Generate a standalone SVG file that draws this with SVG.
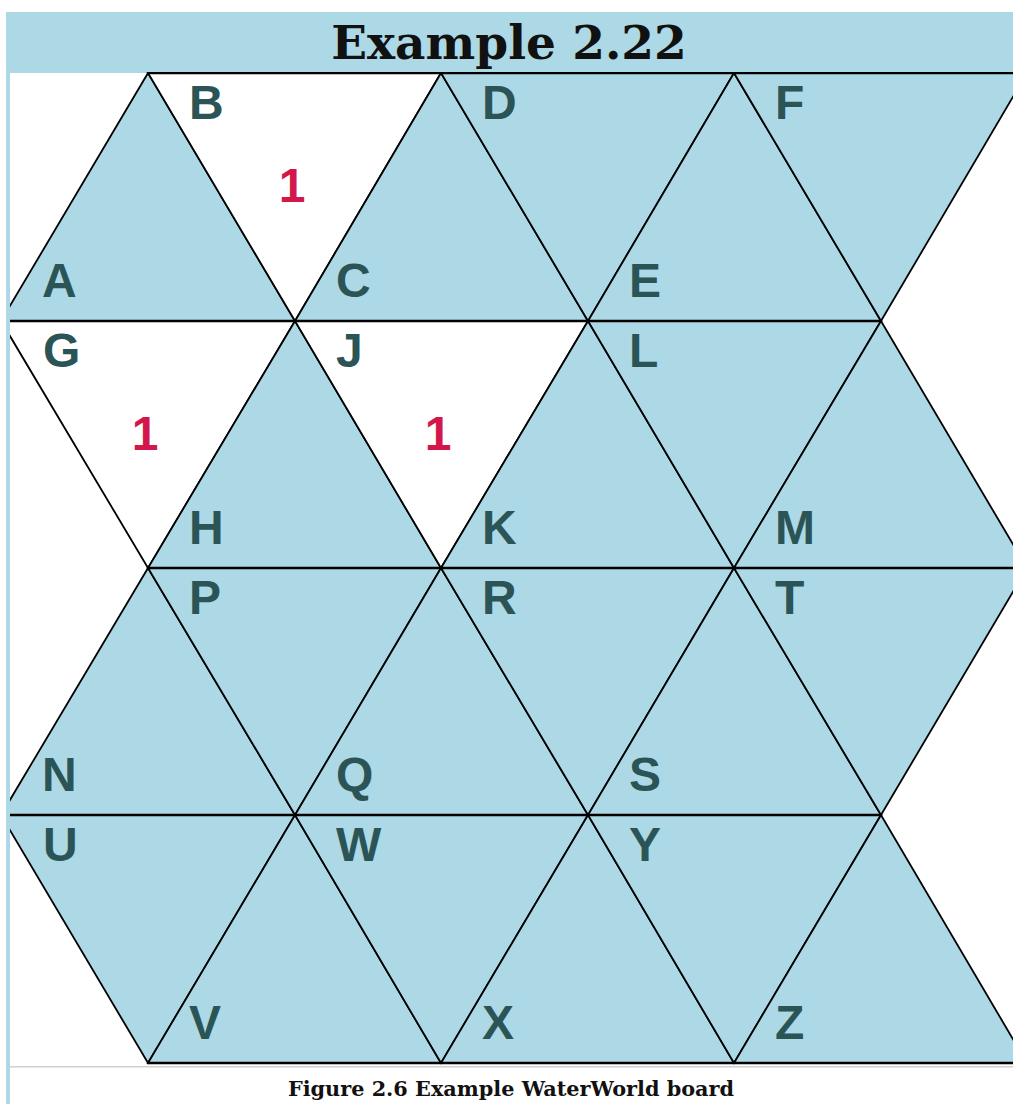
<svg xmlns="http://www.w3.org/2000/svg" width="1013" height="1104" viewBox="0 0 1013 1104">
<style>
.sea{fill:#ADD8E6;stroke:#000;stroke-width:1.8;stroke-linejoin:miter}
.land{fill:#FFFFFF;stroke:#000;stroke-width:1.8}
.lbl{font-family:"Liberation Sans",Arial,sans-serif;font-weight:bold;font-size:48px;fill:#2B5456}
.num{font-family:"Liberation Sans",Arial,sans-serif;font-weight:bold;font-size:48px;fill:#D4174A;text-anchor:middle}
.hl{stroke:#000;stroke-width:2.4}
</style>
<defs>
<clipPath id="board"><rect x="10" y="72" width="1003" height="993"/></clipPath>
</defs>
<rect x="0" y="0" width="1013" height="1104" fill="#FFFFFF"/>
<rect x="6" y="12" width="1007" height="61" fill="#ADD8E6"/>
<rect x="6" y="12" width="4" height="1092" fill="#ADD8E6"/>
<text x="509" y="59" text-anchor="middle" font-family="'DejaVu Serif','Liberation Serif',serif" font-weight="bold" font-size="47" fill="#111">Example 2.22</text>
<g clip-path="url(#board)">
<g id="A"><polygon class="sea" points="148,73 1,321 295,321"/><text class="lbl" x="42" y="297">A</text></g>
<g id="B"><polygon class="land" points="148,73 441,73 295,321"/><text class="lbl" x="189" y="119">B</text><text class="num" x="292" y="202">1</text></g>
<g id="C"><polygon class="sea" points="441,73 295,321 588,321"/><text class="lbl" x="336" y="297">C</text></g>
<g id="D"><polygon class="sea" points="441,73 734,73 588,321"/><text class="lbl" x="482" y="119">D</text></g>
<g id="E"><polygon class="sea" points="734,73 588,321 881,321"/><text class="lbl" x="629" y="297">E</text></g>
<g id="F"><polygon class="sea" points="734,73 1027,73 881,321"/><text class="lbl" x="775" y="119">F</text></g>
<g id="G"><polygon class="land" points="1,321 295,321 148,568"/><text class="lbl" x="43" y="367">G</text><text class="num" x="145" y="450">1</text></g>
<g id="H"><polygon class="sea" points="295,321 148,568 441,568"/><text class="lbl" x="189" y="544">H</text></g>
<g id="J"><polygon class="land" points="295,321 588,321 441,568"/><text class="lbl" x="336" y="367">J</text><text class="num" x="438" y="450">1</text></g>
<g id="K"><polygon class="sea" points="588,321 441,568 734,568"/><text class="lbl" x="482" y="544">K</text></g>
<g id="L"><polygon class="sea" points="588,321 881,321 734,568"/><text class="lbl" x="629" y="367">L</text></g>
<g id="M"><polygon class="sea" points="881,321 734,568 1027,568"/><text class="lbl" x="775" y="544">M</text></g>
<g id="N"><polygon class="sea" points="148,568 1,815 295,815"/><text class="lbl" x="42" y="791">N</text></g>
<g id="P"><polygon class="sea" points="148,568 441,568 295,815"/><text class="lbl" x="189" y="614">P</text></g>
<g id="Q"><polygon class="sea" points="441,568 295,815 588,815"/><text class="lbl" x="336" y="791">Q</text></g>
<g id="R"><polygon class="sea" points="441,568 734,568 588,815"/><text class="lbl" x="482" y="614">R</text></g>
<g id="S"><polygon class="sea" points="734,568 588,815 881,815"/><text class="lbl" x="629" y="791">S</text></g>
<g id="T"><polygon class="sea" points="734,568 1027,568 881,815"/><text class="lbl" x="775" y="614">T</text></g>
<g id="U"><polygon class="sea" points="1,815 295,815 148,1063"/><text class="lbl" x="43" y="861">U</text></g>
<g id="V"><polygon class="sea" points="295,815 148,1063 441,1063"/><text class="lbl" x="189" y="1039">V</text></g>
<g id="W"><polygon class="sea" points="295,815 588,815 441,1063"/><text class="lbl" x="336" y="861">W</text></g>
<g id="X"><polygon class="sea" points="588,815 441,1063 734,1063"/><text class="lbl" x="482" y="1039">X</text></g>
<g id="Y"><polygon class="sea" points="588,815 881,815 734,1063"/><text class="lbl" x="629" y="861">Y</text></g>
<g id="Z"><polygon class="sea" points="881,815 734,1063 1027,1063"/><text class="lbl" x="775" y="1039">Z</text></g>
<g id="connectors">
<line class="hl" x1="148" y1="73" x2="1013" y2="73"/>
<line class="hl" x1="10" y1="321" x2="881" y2="321"/>
<line class="hl" x1="148" y1="568" x2="1013" y2="568"/>
<line class="hl" x1="10" y1="815" x2="881" y2="815"/>
<line class="hl" x1="148" y1="1063" x2="1013" y2="1063"/>
</g>
</g>
<rect x="10" y="1066" width="1003" height="1.5" fill="#D0D0D0"/>
<text x="511" y="1096" text-anchor="middle" font-family="'DejaVu Serif','Liberation Serif',serif" font-weight="bold" font-size="20.8" fill="#111">Figure 2.6 Example WaterWorld board</text>
</svg>
